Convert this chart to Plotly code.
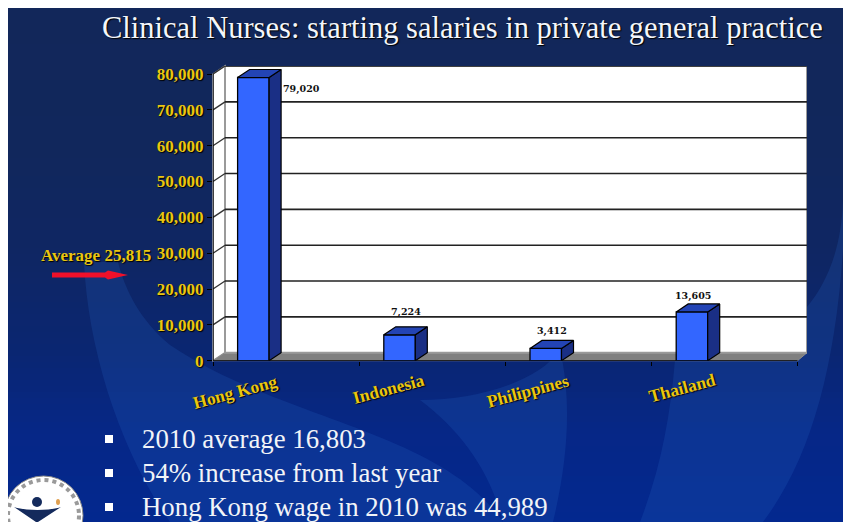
import plotly.graph_objects as go

countries = ["Hong Kong", "Indonesia", "Philippines", "Thailand"]
salaries = [79020, 7224, 3412, 13605]
salary_labels = ["79,020", "7,224", "3,412", "13,605"]
y_ticks = [0, 10000, 20000, 30000, 40000, 50000, 60000, 70000, 80000]
bullets = ["2010 average 16,803", "54% increase from last year", "Hong Kong wage in 2010 was 44,989"]

W, H = 843, 522
SERIF = "Liberation Serif"
YELLOW = "#eac610"


def fx(px):
    return px / W


def fy(py):
    return 1 - py / H


def path(cmds):
    # cmds in screenshot pixels, converted to paper units
    out = []
    for c in cmds:
        out.append(c[0] + " ".join(f"{fx(c[i])},{fy(c[i + 1])}" for i in range(1, len(c), 2)))
    return " ".join(out) + " Z"


# plot geometry
X0, X_END, Y_ZERO, Y_TOP = 213, 807, 360.7, 66
CAT_W = 146.2
PX_PER_UNIT = 286.7 / 80000
DX = 12 / CAT_W
DY = 8 / PX_PER_UNIT
X_MAX = (X_END - X0) / CAT_W
Y_MAX = (Y_ZERO - Y_TOP) / PX_PER_UNIT
bar_x = [i + 0.276 for i in range(len(countries))]
BAR_W = 31.5 / CAT_W

shapes = []

# background gradient
stops = [(8, (18, 39, 90)), (150, (17, 39, 92)), (250, (15, 38, 99)), (350, (10, 38, 114)),
         (430, (6, 39, 135)), (522, (3, 40, 143))]
for y in range(8, 522, 6):
    for (a, ca), (b, cb) in zip(stops, stops[1:]):
        if a <= y <= b:
            t = (y - a) / (b - a)
            col = [round(p + (q - p) * t) for p, q in zip(ca, cb)]
            break
    shapes.append(dict(type="rect", xref="paper", yref="paper", x0=fx(8), x1=1, y0=0, y1=fy(y),
                       fillcolor=f"rgb({col[0]},{col[1]},{col[2]})", line_width=0, layer="below"))

# pale swooshes
swooshes = [
    [("M", 84, 262), ("C", 88, 350, 120, 450, 170, 522), ("L", 503, 522),
     ("C", 440, 430, 280, 420, 170, 345), ("C", 140, 320, 125, 290, 118, 262)],
    [("M", 503, 522), ("L", 553, 522), ("C", 568, 460, 572, 400, 560, 350), ("C", 540, 380, 480, 400, 420, 400),
     ("C", 460, 430, 490, 470, 503, 522)],
    [("M", 640, 522), ("L", 763, 522), ("C", 810, 460, 835, 370, 843, 250), ("L", 843, 200),
     ("C", 840, 300, 780, 360, 675, 360), ("C", 670, 420, 660, 470, 640, 522)],
]
for s in swooshes:
    shapes.append(dict(type="path", xref="paper", yref="paper", path=path(s),
                       fillcolor="rgba(40,105,200,0.2)", line_width=0, layer="below"))

# walls and floor of the 3D box
shapes.append(dict(type="rect", xref="x", yref="y", x0=DX, x1=X_MAX, y0=DY, y1=Y_MAX,
                   fillcolor="white", line=dict(color="#9a9a9a", width=2), layer="below"))
shapes.append(dict(type="path", xref="paper", yref="paper",
                   path=path([("M", X0, 74), ("L", X0 + 12, 66), ("L", X0 + 12, 352.7), ("L", X0, 360.7)]),
                   fillcolor="white", line=dict(color="#9a9a9a", width=1.5), layer="below"))
shapes.append(dict(type="path", xref="paper", yref="paper",
                   path=path([("M", X0, 360.7), ("L", X0 + 12, 352.7), ("L", X_END, 352.7), ("L", 797.5, 360.7)]),
                   fillcolor="#808080", line=dict(color="#8c8c8c", width=1), layer="below"))
for v in y_ticks[1:]:
    shapes.append(dict(type="line", xref="x", yref="y", x0=DX, x1=X_MAX, y0=v + DY, y1=v + DY,
                       line=dict(color="#222222", width=1.6), layer="below"))
    shapes.append(dict(type="line", xref="x", yref="y", x0=0, x1=DX, y0=v, y1=v + DY,
                       line=dict(color="#333333", width=1.3), layer="below"))
shapes.append(dict(type="line", xref="x", yref="y", x0=0, x1=0, y0=0, y1=80000,
                   line=dict(color="black", width=1.3), layer="below"))
shapes.append(dict(type="line", xref="x", yref="y", x0=0, x1=(797.5 - X0) / CAT_W, y0=0, y1=0,
                   line=dict(color="black", width=1.3), layer="below"))

# red arrow
shapes.append(dict(type="path", xref="paper", yref="paper",
                   path=path([("M", 52, 272.5), ("L", 105, 272.5), ("L", 108, 270.5), ("L", 128, 275),
                              ("L", 108, 279.5), ("L", 105, 277.5), ("L", 52, 277.5)]),
                   fillcolor="#f0102a", line_width=0))

# bullets
for y in [439, 473, 507]:
    shapes.append(dict(type="rect", xref="paper", yref="paper", x0=fx(105), x1=fx(113), y0=fy(y + 4), y1=fy(y - 4),
                       fillcolor="white", line_width=0))

# logo
shapes.append(dict(type="circle", xref="paper", yref="paper", x0=fx(4), x1=fx(83), y0=fy(555), y1=fy(476),
                   fillcolor="white", line=dict(color="#8a8a8a", width=1)))
shapes.append(dict(type="circle", xref="paper", yref="paper", x0=fx(8), x1=fx(79), y0=fy(551), y1=fy(480),
                   fillcolor="white", line=dict(color="#9a9a9a", width=4, dash="dot")))
shapes.append(dict(type="path", xref="paper", yref="paper",
                   path=path([("M", 14, 507), ("C", 25, 511, 50, 511, 61, 507), ("L", 38, 522), ("L", 36, 522)]),
                   fillcolor="#142a5c", line_width=0))
shapes.append(dict(type="circle", xref="paper", yref="paper", x0=fx(32), x1=fx(42), y0=fy(507), y1=fy(497),
                   fillcolor="#142a5c", line_width=0))
shapes.append(dict(type="circle", xref="paper", yref="paper", x0=fx(56), x1=fx(60), y0=fy(505), y1=fy(499),
                   fillcolor="#e0a050", line_width=0))
shapes.append(dict(type="rect", xref="paper", yref="paper", x0=0, x1=fx(8), y0=0, y1=1, fillcolor="white", line_width=0))

fig = go.Figure()
fig.add_trace(go.Bar(x=bar_x, y=salaries, width=BAR_W, marker=dict(color="#3366ff", line=dict(color="black", width=1.3)),
                     hoverinfo="skip"))
# side and top faces of each bar
for x, v in zip(bar_x, salaries):
    left, right = x - BAR_W / 2, x + BAR_W / 2
    fig.add_trace(go.Scatter(x=[right, right + DX, right + DX, right, right], y=[0, DY, v + DY, v, 0], mode="lines",
                             fill="toself", fillcolor="#1a2f85", line=dict(color="black", width=1.2), hoverinfo="skip"))
    fig.add_trace(go.Scatter(x=[left, left + DX, right + DX, right, left], y=[v, v + DY, v + DY, v, v], mode="lines",
                             fill="toself", fillcolor="#2344b5", line=dict(color="black", width=1.2), hoverinfo="skip"))

annotations = []


def note(text, x, y, size, color, bold=False, xanchor="left", angle=0, shadow="none", family=SERIF):
    annotations.append(dict(text=f"<b>{text}</b>" if bold else text, xref="paper", yref="paper", x=fx(x), y=fy(y),
                            xanchor=xanchor, yanchor="middle", showarrow=False, textangle=angle,
                            font=dict(family=family, size=size, color=color, shadow=shadow)))


note("Clinical Nurses: starting salaries in private general practice", 100, 28, 30.5, "#f4f6fa", shadow="1px 1px 1px #000")
note("Average 25,815", 39, 256, 17, YELLOW, bold=True, shadow="1px 1px 1px #000")
for text, y in zip(bullets, [439, 473, 507]):
    note(text, 140, y, 26.8, "#f2f4f8")

# value labels follow their bars
label_shifts = [(0, -11), (0, 7), (0, 1), (-5, 0)]
for i, (x, v, lab) in enumerate(zip(bar_x, salaries, salary_labels)):
    annotations.append(dict(text=f"<b>{lab}</b>", x=x + BAR_W / 2 + DX if i == 0 else x + DX / 2,
                            y=v if i == 0 else v + DY, xref="x", yref="y",
                            xanchor="left" if i == 0 else "center", yanchor="middle" if i == 0 else "bottom",
                            xshift=label_shifts[i][0], yshift=label_shifts[i][1], showarrow=False,
                            font=dict(family="DejaVu Serif", size=9.5, color="#111111")))

for x, y, name in zip([235, 388, 528, 682], [392, 389, 391, 388], countries):
    note(name, x, y, 17.5, YELLOW, bold=True, xanchor="center", angle=-15, shadow="1px 1px 1px #000")

fig.update_layout(
    width=W, height=H, margin=dict(l=0, r=0, t=0, b=0), showlegend=False,
    paper_bgcolor="white", plot_bgcolor="rgba(0,0,0,0)",
    xaxis=dict(domain=[fx(X0), fx(X_END)], range=[0, X_MAX], tickvals=[0, 1, 2, 3, 4], showticklabels=False,
               ticks="outside", ticklen=4, tickcolor="black", showgrid=False, zeroline=False, showline=False,
               automargin=False),
    yaxis=dict(domain=[fy(Y_ZERO), fy(Y_TOP)], range=[0, Y_MAX], tickvals=y_ticks, tickformat=",d",
               ticks="outside", ticklen=5, tickcolor="black", showgrid=False, zeroline=False, showline=False,
               automargin=False, tickfont=dict(family=SERIF, size=17, color=YELLOW, weight="bold", shadow="1px 1px 1px #000")),
    shapes=shapes, annotations=annotations,
)
# the page's default body margin would cut the figure off on the right
fig.write_html("out.html", config=dict(displayModeBar=False), post_script="document.body.style.margin='0';")
